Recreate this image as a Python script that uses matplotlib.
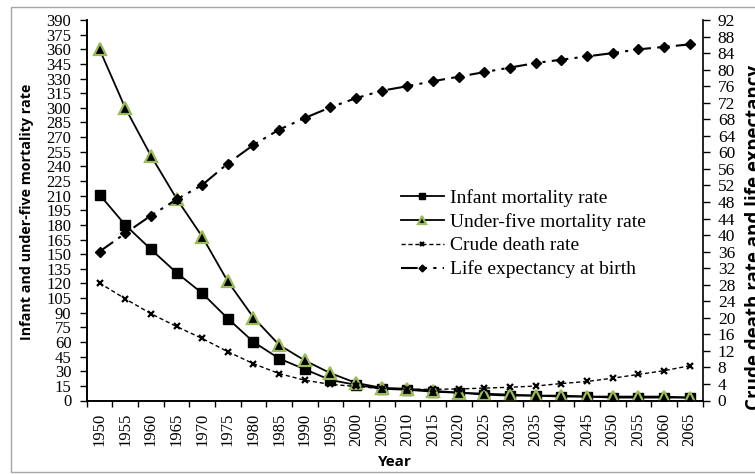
import matplotlib
matplotlib.use("Agg")
import matplotlib.pyplot as plt
from matplotlib.patches import Rectangle
import numpy as np

years = [1950, 1955, 1960, 1965, 1970, 1975, 1980, 1985, 1990, 1995, 2000, 2005,
         2010, 2015, 2020, 2025, 2030, 2035, 2040, 2045, 2050, 2055, 2060, 2065]
infant = [211, 180, 155, 131, 110, 84, 60, 43, 32, 21, 16, 12,
          11, 9, 8, 6, 5, 5, 4, 4, 3, 3, 3, 3]
under5 = [360, 300, 251, 207, 168, 122, 85, 57, 41, 28, 18, 13,
          12, 10, 8, 7, 6, 5, 5, 4, 4, 4, 4, 3]
crude_death = [28.4, 24.6, 21.0, 17.9, 15.0, 11.8, 8.9, 6.5, 4.9, 3.9, 3.4, 2.9,
               2.7, 2.7, 2.8, 3.0, 3.2, 3.5, 4.1, 4.6, 5.4, 6.3, 7.2, 8.4]
life_exp = [36.0, 40.4, 44.7, 48.6, 52.1, 57.3, 61.8, 65.5, 68.3, 70.9, 73.1, 74.9,
            76.0, 77.2, 78.3, 79.4, 80.5, 81.6, 82.4, 83.2, 84.0, 84.9, 85.5, 86.1]
left_ticks = list(range(0, 391, 15))
right_ticks = list(range(0, 93, 4))

serif = "Liberation Serif"
sans = "Open Sans"
W, H = 755, 474

fig = plt.figure(figsize=(W / 100, H / 100), dpi=100)
ax = fig.add_axes([86.7 / W, 1 - 400.5 / H, (702.5 - 86.7) / W, (400.5 - 20) / H])
ax2 = ax.twinx()

x = np.arange(len(years))
l1, = ax.plot(x, infant, color="black", lw=1.3, marker="s", ms=7, mfc="black", mec="black",
              label="Infant mortality rate", zorder=3)
l2, = ax.plot(x, under5, color="black", lw=1.3, marker="^", ms=8.5, mfc="black", mec="#9BBB59",
              mew=1.6, label="Under-five mortality rate", zorder=4)
l3, = ax2.plot(x, crude_death, color="black", lw=1.0, ls=(0, (3, 2)), marker="x", ms=5, mew=1.6,
               label="Crude death rate", zorder=3)
l4, = ax2.plot(x, life_exp, color="black", lw=1.5, ls=(0, (8, 3, 1.5, 3, 1.5, 3)), marker="D",
               ms=5, mfc="black", mec="black", label="Life expectancy at birth", zorder=3)

ax.set_xlim(-0.5, len(years) - 0.5)
ax.set_ylim(0, 390)
ax2.set_ylim(0, 92)

ax.set_xticks(x)
ax.set_xticklabels([str(y) for y in years], rotation=90, fontfamily=serif, fontsize=12)
ax.set_xticks(np.arange(-0.5, len(years), 1.0), minor=True)
ax.tick_params(axis="x", which="major", length=0, pad=9)
ax.tick_params(axis="x", which="minor", length=4, direction="out", width=1)

ax.set_yticks(left_ticks)
ax.set_yticklabels([str(v) for v in left_ticks], fontfamily=serif, fontsize=12)
ax.tick_params(axis="y", which="major", length=5, direction="out", width=1, pad=6)
ax2.set_yticks(right_ticks)
ax2.set_yticklabels([str(v) for v in right_ticks], fontfamily=serif, fontsize=12.5)
ax2.tick_params(axis="y", which="major", length=5, direction="out", width=1, pad=6)

for a in (ax, ax2):
    a.spines["top"].set_visible(False)
    for s in ("left", "right", "bottom"):
        a.spines[s].set_linewidth(1.2)
ax.spines["right"].set_visible(False)

fig.text(395 / W, 1 - 462 / H, "Year", fontfamily=sans, fontweight="bold", fontsize=11,
         ha="center", va="center")
fig.text(26.5 / W, 1 - 212 / H, "Infant and under-five mortality rate", rotation=90,
         fontfamily=sans, fontweight="bold", fontsize=10.3, ha="center", va="center")
fig.text(755 / W, 1 - 238 / H, "Crude death rate and life expectancy", rotation=90,
         fontfamily=sans, fontweight="bold", fontsize=13.5, ha="center", va="center")

leg = ax.legend(handles=[l1, l2, l3, l4], loc="upper left",
                bbox_to_anchor=(401 / W, 1 - 189 / H), bbox_transform=fig.transFigure,
                frameon=False, prop={"family": serif, "size": 14}, handlelength=2.2,
                handletextpad=0.3, labelspacing=0.31, markerscale=0.7,
                borderpad=0, borderaxespad=0)

fig.patches.append(Rectangle((11 / W, 1 - 472 / H), 1.0, 465 / H, transform=fig.transFigure,
                             fill=False, edgecolor="#a6a6a6", lw=1.0))

fig.savefig("out.png", dpi=100)
